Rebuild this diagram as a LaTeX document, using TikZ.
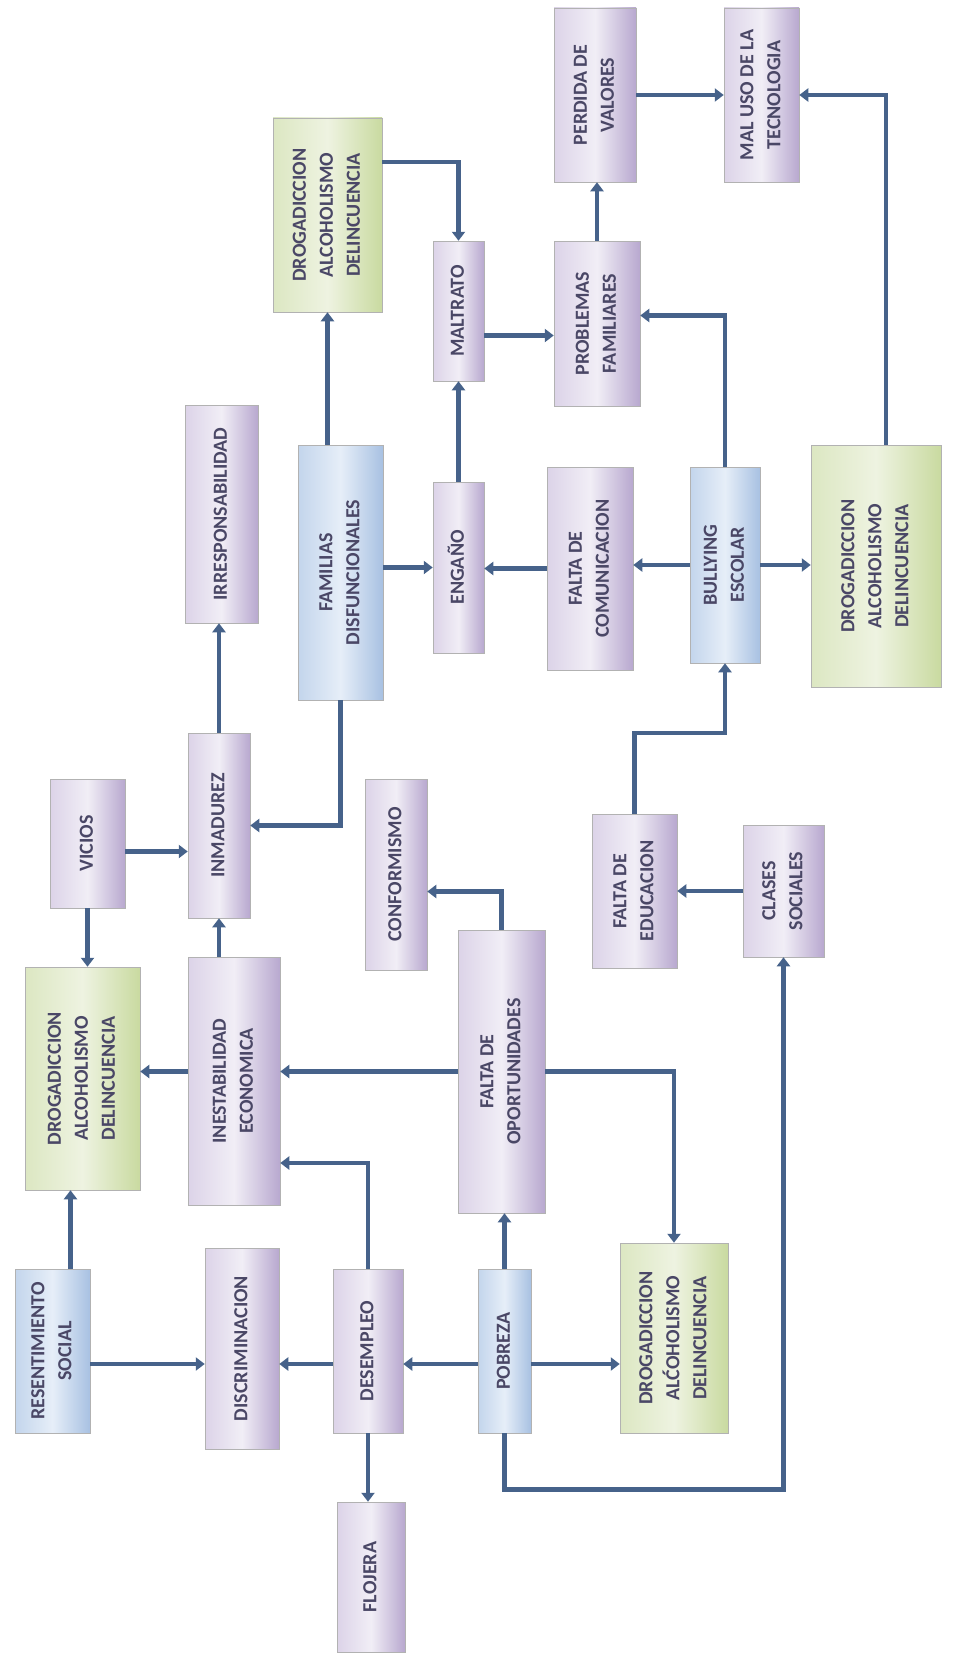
\documentclass[tikz,border=0pt]{standalone}
\usepackage{fontspec}
\setmainfont{Carlito}
\usepackage{graphicx}
\usepackage{tikz}
\usetikzlibrary{arrows.meta}
\definecolor{lavL}{HTML}{DCD3E8}
\definecolor{lavM}{HTML}{F1EEF6}
\definecolor{lavD}{HTML}{B8A8CF}
\definecolor{bluL}{HTML}{C3D5EC}
\definecolor{bluM}{HTML}{E6EEF8}
\definecolor{bluD}{HTML}{A8C1E2}
\definecolor{grnL}{HTML}{DCE7C2}
\definecolor{grnM}{HTML}{EEF3E1}
\definecolor{grnD}{HTML}{C9DAA0}
\definecolor{txtc}{HTML}{4A4766}
\definecolor{linkc}{HTML}{46628A}
\newcommand{\vlabel}[1]{\rotatebox{90}{\begin{tabular}{@{}c@{}}#1\end{tabular}}}

\begin{document}
\begin{tikzpicture}
                        [
                            x=1pt, y=-1pt,
                            cause/.style={draw=black!30, line width=0.5pt, inner sep=0pt, text=txtc,
                                font=\fontsize{20}{27}\selectfont\bfseries,
                                left color=lavL, right color=lavD, middle color=lavM},
                            root/.style={cause, left color=bluL, right color=bluD, middle color=bluM},
                            effect/.style={cause, left color=grnL, right color=grnD, middle color=grnM},
                            link/.style={-{Triangle[width=13pt,length=9pt]}, line width=4.5pt, draw=linkc}
                        ]
                        \useasboundingbox (0,0) rectangle (956,1659);
                        % top row
                        \node[cause, minimum width=82pt, minimum height=174pt] (pdv) at (595,95) {\vlabel{PERDIDA DE\\VALORES}};
                        \node[cause, minimum width=75pt, minimum height=174pt] (maluso) at (761.5,95) {\vlabel{MAL USO DE LA\\TECNOLOGIA}};
                        \node[effect, minimum width=109pt, minimum height=194pt] (drogA) at (327.5,215) {\vlabel{DROGADICCION\\ALCOHOLISMO\\DELINCUENCIA}};
                        \node[cause, minimum width=51pt, minimum height=140pt] (maltrato) at (458.5,311) {\vlabel{MALTRATO}};
                        \node[cause, minimum width=86pt, minimum height=165pt] (probfam) at (597,323.5) {\vlabel{PROBLEMAS\\FAMILIARES}};
                        % middle row
                        \node[cause, minimum width=73pt, minimum height=218pt] (irresp) at (221.5,514) {\vlabel{IRRESPONSABILIDAD}};
                        \node[root, minimum width=85pt, minimum height=255pt] (familias) at (340.5,572.5) {\vlabel{FAMILIAS\\DISFUNCIONALES}};
                        \node[cause, minimum width=51pt, minimum height=171pt] (engano) at (458.5,567.5) {\vlabel{ENGAÑO}};
                        \node[cause, minimum width=86pt, minimum height=203pt] (faltacom) at (590,568.5) {\vlabel{FALTA DE\\COMUNICACION}};
                        \node[root, minimum width=70pt, minimum height=196pt] (bullying) at (725,565) {\vlabel{BULLYING\\ESCOLAR}};
                        \node[effect, minimum width=130pt, minimum height=242pt] (drogB) at (876,566) {\vlabel{DROGADICCION\\ALCOHOLISMO\\DELINCUENCIA}};
                        \node[cause, minimum width=75pt, minimum height=129pt] (vicios) at (87.5,843.5) {\vlabel{VICIOS}};
                        \node[cause, minimum width=62pt, minimum height=185pt] (inmadurez) at (219,825.5) {\vlabel{INMADUREZ}};
                        \node[cause, minimum width=62pt, minimum height=191pt] (conformismo) at (396,874.5) {\vlabel{CONFORMISMO}};
                        \node[cause, minimum width=85pt, minimum height=154pt] (faltaedu) at (634.5,891) {\vlabel{FALTA DE\\EDUCACION}};
                        \node[cause, minimum width=81pt, minimum height=132pt] (clases) at (783.5,891) {\vlabel{CLASES\\SOCIALES}};
                        \node[effect, minimum width=115pt, minimum height=223pt] (drogC) at (82.5,1078.5) {\vlabel{DROGADICCION\\ALCOHOLISMO\\DELINCUENCIA}};
                        \node[cause, minimum width=92pt, minimum height=248pt] (inest) at (234,1081) {\vlabel{INESTABILIDAD\\ECONOMICA}};
                        \node[cause, minimum width=87pt, minimum height=283pt] (faltaop) at (501.5,1071.5) {\vlabel{FALTA DE\\OPORTUNIDADES}};
                        % bottom row
                        \node[root, minimum width=75pt, minimum height=164pt] (resent) at (52.5,1351) {\vlabel{RESENTIMIENTO\\SOCIAL}};
                        \node[cause, minimum width=74pt, minimum height=201pt] (discrim) at (242,1348.5) {\vlabel{DISCRIMINACION}};
                        \node[cause, minimum width=70pt, minimum height=164pt] (desempleo) at (368,1351) {\vlabel{DESEMPLEO}};
                        \node[cause, minimum width=68pt, minimum height=150pt] (flojera) at (371,1577) {\vlabel{FLOJERA}};
                        \node[root, minimum width=53pt, minimum height=164pt] (pobreza) at (504.5,1351) {\vlabel{POBREZA}};
                        \node[effect, minimum width=108pt, minimum height=190pt] (drogD) at (674,1338) {\vlabel{DROGADICCION\\ALĆOHOLISMO\\DELINCUENCIA}};
                        \coordinate (mp) at ([yshift=-12pt]probfam.west);
                        \coordinate (pw) at ([yshift=-13pt]pobreza.west);
                        % arrows
                        \draw[link] (familias.north -| drogA) -- (drogA.south);
                        \draw[link] ([yshift=53pt]drogA.east) -| (maltrato.north);
                        \draw[link] (engano.north) -- (maltrato.south);
                        \draw[link] (mp -| maltrato.east) -- (mp);
                        \draw[link] (probfam.north) -- (probfam.north |- pdv.south);
                        \draw[link] (pdv.east) -- (maluso.west);
                        \draw[link] ([xshift=10pt]drogB.north) |- (maluso.east);
                        \draw[link] (bullying.north) |- ([yshift=8pt]probfam.east);
                        \draw[link] (bullying.west) -- (bullying.west -| faltacom.east);
                        \draw[link] (bullying.east) -- (bullying.east -| drogB.west);
                        \draw[link] (faltacom.west) -- (faltacom.west -| engano.east);
                        \draw[link] (familias.east |- engano) -- (engano.west);
                        \draw[link] (inmadurez.north) -- (inmadurez.north |- irresp.south);
                        \draw[link] (familias.south) |- (inmadurez.east);
                        \draw[link] ([yshift=-8pt]vicios.east) -- ([yshift=-8pt]vicios.east -| inmadurez.west);
                        \draw[link] (vicios.south) -- (vicios.south |- drogC.north);
                        \draw[link] (inest.north -| inmadurez) -- (inmadurez.south);
                        \draw[link] (inest.west |- faltaop) -- (drogC.east |- faltaop);
                        \draw[link] (faltaop.west) -- (faltaop.west -| inest.east);
                        \draw[link] (desempleo.north) |- ([yshift=-82pt]inest.east);
                        \draw[link] (faltaop.north) |- ([yshift=-17pt]conformismo.east);
                        \draw[link] (faltaop.east) -| (drogD.north);
                        \draw[link] (pobreza.north) -- (pobreza.north |- faltaop.south);
                        \draw[link] (pw -| pobreza.east) -- (pw -| drogD.west);
                        \draw[link] (pw) -- (pw -| desempleo.east);
                        \draw[link] (pw -| desempleo.west) -- (pw -| discrim.east);
                        \draw[link] (pw -| resent.east) -- (pw -| discrim.west);
                        \draw[link] ([xshift=18pt]resent.north) -- ([xshift=18pt]resent.north |- drogC.south);
                        \draw[link] (desempleo.south) -- (desempleo.south |- flojera.north);
                        \draw[link] (pobreza.south) -- ++(0,-56pt) -| (clases.south);
                        \draw[link] (clases.west |- faltaedu) -- (faltaedu.east);
                        \draw[link] (faltaedu.north) -- ++(0,81pt) -| (bullying.south);
                        \end{tikzpicture}
\end{document}
